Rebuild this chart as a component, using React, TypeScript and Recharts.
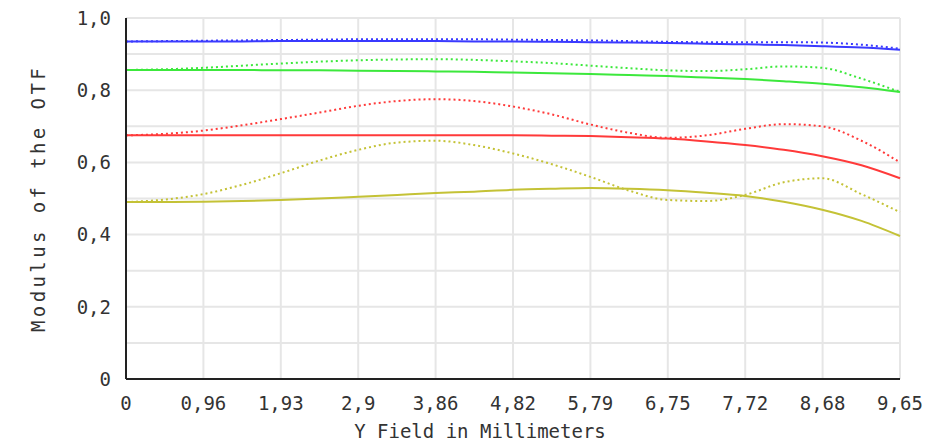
import { LineChart, Line, XAxis, YAxis, CartesianGrid } from "recharts"

// field positions (mm)
const fieldMm = [0, 0.48, 0.96, 1.45, 1.93, 2.41, 2.9, 3.38, 3.86, 4.34, 4.82, 5.31, 5.79, 6.27, 6.75, 7.24, 7.72, 8.2, 8.68, 9.17, 9.65]

const blueTan = [0.935, 0.935, 0.935, 0.935, 0.936, 0.936, 0.936, 0.936, 0.936, 0.935, 0.935, 0.934, 0.933, 0.932, 0.931, 0.929, 0.927, 0.925, 0.922, 0.918, 0.912]
const blueSag = [0.935, 0.936, 0.937, 0.938, 0.939, 0.94, 0.941, 0.941, 0.941, 0.941, 0.94, 0.939, 0.938, 0.936, 0.934, 0.933, 0.933, 0.933, 0.932, 0.926, 0.915]
const greenTan = [0.856, 0.856, 0.856, 0.856, 0.855, 0.855, 0.854, 0.853, 0.852, 0.851, 0.849, 0.847, 0.845, 0.842, 0.839, 0.835, 0.831, 0.825, 0.818, 0.808, 0.795]
const greenSag = [0.856, 0.858, 0.862, 0.868, 0.874, 0.879, 0.883, 0.885, 0.886, 0.884, 0.88, 0.875, 0.868, 0.861, 0.855, 0.853, 0.858, 0.866, 0.862, 0.832, 0.795]
const redTan = [0.675, 0.675, 0.675, 0.675, 0.675, 0.675, 0.675, 0.675, 0.675, 0.675, 0.675, 0.674, 0.673, 0.67, 0.666, 0.658, 0.648, 0.635, 0.617, 0.592, 0.556]
const redSag = [0.675, 0.679, 0.688, 0.703, 0.72, 0.738, 0.757, 0.77, 0.775, 0.77, 0.755, 0.733, 0.705, 0.682, 0.668, 0.675, 0.693, 0.706, 0.7, 0.66, 0.6]
const yellowTan = [0.49, 0.49, 0.491, 0.493, 0.496, 0.5, 0.505, 0.51, 0.515, 0.519, 0.524, 0.527, 0.529, 0.527, 0.523, 0.516, 0.507, 0.491, 0.469, 0.438, 0.396]
const yellowSag = [0.49, 0.497, 0.512, 0.538, 0.57, 0.605, 0.635, 0.655, 0.66, 0.648, 0.625, 0.595, 0.56, 0.522, 0.496, 0.493, 0.51, 0.545, 0.556, 0.512, 0.462]

const xTicks = [0, 0.965, 1.93, 2.895, 3.86, 4.825, 5.79, 6.755, 7.72, 8.685, 9.65]
const xTickLabels = ["0", "0,96", "1,93", "2,9", "3,86", "4,82", "5,79", "6,75", "7,72", "8,68", "9,65"]
const yTicks = [0, 0.2, 0.4, 0.6, 0.8, 1.0]
const yTickLabels = ["0", "0,2", "0,4", "0,6", "0,8", "1,0"]
const yGrid = [0, 0.1, 0.2, 0.3, 0.4, 0.5, 0.6, 0.7, 0.8, 0.9, 1.0]

const data = fieldMm.map((x, i) => ({
  x,
  blueTan: blueTan[i],
  blueSag: blueSag[i],
  greenTan: greenTan[i],
  greenSag: greenSag[i],
  redTan: redTan[i],
  redSag: redSag[i],
  yellowTan: yellowTan[i],
  yellowSag: yellowSag[i],
}))

const series = [
  { key: "blueTan", color: "#3a3aff", dotted: false },
  { key: "blueSag", color: "#3a3aff", dotted: true },
  { key: "greenTan", color: "#3ce83c", dotted: false },
  { key: "greenSag", color: "#3ce83c", dotted: true },
  { key: "redTan", color: "#ff3a3a", dotted: false },
  { key: "redSag", color: "#ff3a3a", dotted: true },
  { key: "yellowTan", color: "#c4c236", dotted: false },
  { key: "yellowSag", color: "#c4c236", dotted: true },
]

const font = "'DejaVu Sans Mono', monospace"

export default function App() {
  return (
    <div style={{ position: "absolute", left: 0, top: 0, width: 949, height: 442, background: "#fff" }}>
      <LineChart width={949} height={442} data={data} margin={{ top: 18, right: 49, bottom: 0, left: 0 }}>
        <CartesianGrid
          stroke="#e6e6e6"
          strokeWidth={2}
          horizontalValues={yGrid}
          verticalValues={xTicks}
        />
        <XAxis
          dataKey="x"
          type="number"
          domain={[0, 9.65]}
          ticks={xTicks}
          tickFormatter={(v: number) => xTickLabels[xTicks.indexOf(v)] ?? String(v)}
          tickLine={false}
          axisLine={{ stroke: "#222", strokeWidth: 2 }}
          tick={{ fontFamily: font, fontSize: 19, fill: "#333" }}
          tickMargin={12}
          height={63}
          label={{ value: "Y Field in Millimeters", position: "insideBottom", offset: 4, dx: -33, style: { fontFamily: font, fontSize: 19, fill: "#333" } }}
        />
        <YAxis
          type="number"
          domain={[0, 1]}
          ticks={yTicks}
          tickFormatter={(v: number) => yTickLabels[yTicks.indexOf(v)] ?? String(v)}
          tickLine={false}
          axisLine={{ stroke: "#222", strokeWidth: 2 }}
          tick={{ fontFamily: font, fontSize: 19, fill: "#333" }}
          tickMargin={9}
          width={126}
          label={{ value: "Modulus of the OTF", angle: -90, position: "insideLeft", offset: 38, style: { fontFamily: font, fontSize: 19, letterSpacing: 3.4, fill: "#333", textAnchor: "middle" } }}
        />
        {series.map((s) => (
          <Line
            key={s.key}
            dataKey={s.key}
            type="monotone"
            stroke={s.color}
            strokeWidth={2}
            strokeDasharray={s.dotted ? "2 3" : undefined}
            dot={false}
            isAnimationActive={false}
          />
        ))}
      </LineChart>
    </div>
  )
}
